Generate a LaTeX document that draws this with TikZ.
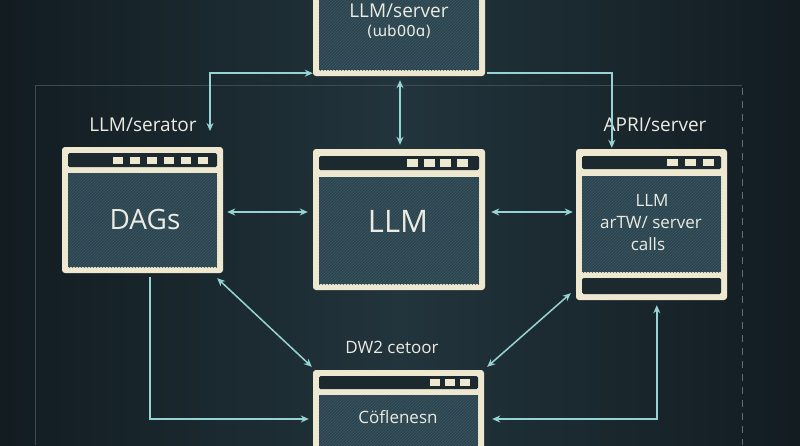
\documentclass[tikz,border=0pt]{standalone}
\usepackage{fontspec}
\setmainfont{Open Sans}
\newfontfamily\dejavu{DejaVu Sans}
\usetikzlibrary{arrows.meta,patterns,calc}
\definecolor{bgA}{HTML}{121C21}
\definecolor{bgB}{HTML}{22343C}
\definecolor{cream}{HTML}{EEE8D0}
\definecolor{bodyc}{HTML}{2B444E}
\definecolor{barc}{HTML}{1C2A30}
\definecolor{hatch}{HTML}{3A5865}
\definecolor{arrowc}{HTML}{96D4D4}
\definecolor{framec}{HTML}{3A4B52}
\definecolor{txtc}{HTML}{ECEBE2}
\begin{document}
\begin{tikzpicture}[x=1pt,y=-1pt,
  win/.style={fill=cream, rounded corners=3pt, inner sep=0pt, draw=none},
  bar/.style={fill=barc, rounded corners=1.5pt},
  bodyf/.style={fill=bodyc},
  hatchf/.style={pattern=north east lines, pattern color=hatch},
  sq/.style={fill=cream},
  link/.style={draw=arrowc, line width=1.5pt, -{Stealth[length=8pt,width=7pt]}},
  dlink/.style={draw=arrowc, line width=1.5pt, {Stealth[length=8pt,width=7pt]}-{Stealth[length=8pt,width=7pt]}},
  lbl/.style={text=txtc, inner sep=0pt, font=\fontsize{19}{22}\selectfont},
  big/.style={text=txtc, inner sep=0pt, font=\fontsize{31}{36}\selectfont},
  mid/.style={text=txtc, inner sep=0pt, font=\fontsize{17}{20}\selectfont},
  frame/.style={draw=framec, line width=0.9pt}
]
\useasboundingbox (0,0) rectangle (800,445);
\clip (0,0) rectangle (800,445);
% background
\shade[left color=bgA, right color=bgA, middle color=bgB] (0,0) rectangle (800,445);
% faint frame
\draw[frame] (35,445) -- (35,85) -- (742,85);
\draw[frame, draw=framec!80!white, dash pattern=on 7pt off 6pt] (742,88) -- (742,445);

% ---------- boxes ----------
% top box
\node[win, minimum width=172pt, minimum height=88pt] (top) at (399,32) {};
\fill[bodyf] (319,-10) rectangle (479,70);
\fill[hatchf] (319,-10) rectangle (479,70);
\node[lbl] (topt1) at (399,11) {LLM/server};
\node[mid, font=\dejavu\fontsize{15}{18}\selectfont] (topt2) at (399,32) {(ɯb00ɑ)};

% DAGs box
\node[win, minimum width=161pt, minimum height=126pt] (dags) at (142.5,210) {};
\fill[bar] (68,153) rectangle (217,167);
\foreach \i in {0,...,5} \fill[sq] (113+17*\i,157) rectangle ++(10,7);
\fill[bodyf] (68,173) rectangle (217,267);
\fill[hatchf] (68,173) rectangle (217,267);
\node[big, font=\fontsize{28}{32}\selectfont] (dagst) at (145,219) {DAGs};

% LLM box
\node[win, minimum width=172pt, minimum height=141pt] (llm) at (399,219.5) {};
\fill[bar] (319,156) rectangle (479,170);
\foreach \i in {0,...,3} \fill[sq] (407+16.7*\i,159) rectangle ++(11,8);
\fill[bodyf] (319,177) rectangle (479,284);
\fill[hatchf] (319,177) rectangle (479,284);
\node[big] (llmt) at (398,221) {LLM};

% API box
\node[win, minimum width=151pt, minimum height=151pt] (api) at (651.5,224.5) {};
\fill[bar] (582,156) rectangle (721,169);
\foreach \i in {0,...,2} \fill[sq] (667+18*\i,159) rectangle ++(11,7);
\fill[bodyf] (582,176) rectangle (721,272);
\fill[hatchf] (582,176) rectangle (721,272);
\fill[bar] (582,278) rectangle (721,294);
\node[mid] (apit1) at (652,200) {LLM};
\node[mid] (apit2) at (651,223) {arTW/ server};
\node[mid] (apit3) at (648,244) {calls};

% bottom box
\node[win, minimum width=171pt, minimum height=90pt] (bot) at (398.5,415) {};
\fill[bar] (319,376) rectangle (478,389);
\foreach \i in {0,...,2} \fill[sq] (430+15*\i,379) rectangle ++(10,7);
\fill[bodyf] (319,395) rectangle (478,460);
\fill[hatchf] (319,395) rectangle (478,460);
\node[mid] (bott) at (398,417) {Cöflenesn};

% ---------- labels ----------
\node[lbl] (lblL) at (143,125) {LLM/serator};
\node[lbl] (lblR) at (655,125) {APRI/server};
\node[lbl, font=\fontsize{17}{20}\selectfont] (lblB) at (392,347) {DW2 cetoor};

% ---------- connectors ----------
\coordinate (cL) at (210,131);
\draw[dlink] (cL) |- ($(top.south west)+(0,-3)$);
\draw[link] ($(top.south east)+(2,-3)$) -| ($(api.north west)+(36,-1)$);
\draw[dlink] ($(top.south)+(1,4)$) -- ($(llm.north)+(1,-4)$);
\draw[dlink] ($(dags.east)+(4,2)$) -- ($(llm.west)+(-5,-7.5)$);
\draw[dlink] ($(llm.east)+(6,-7.5)$) -- ($(api.west)+(-3,-12.5)$);
\draw[dlink] ($(dags.south east)+(-6,5)$) -- ($(bot.north west)+(-1,-3)$);
\draw[dlink] ($(api.south west)+(-5,-7)$) -- ($(bot.north east)+(3,-3)$);
\draw[link] ($(dags.south west)+(88,4)$) |- ($(bot.west)+(-4,4)$);
\draw[dlink] ($(api.south west)+(81,5)$) |- ($(bot.east)+(8,4)$);
\end{tikzpicture}
\end{document}
